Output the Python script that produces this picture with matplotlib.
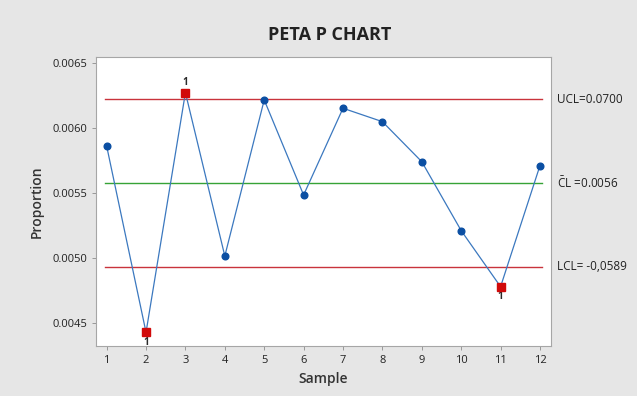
import matplotlib.pyplot as plt

plt.rcParams['font.family'] = ['Open Sans', 'DejaVu Sans']
plt.rcParams['mathtext.fontset'] = 'custom'
plt.rcParams['mathtext.rm'] = 'Open Sans'

# data
sample = [1, 2, 3, 4, 5, 6, 7, 8, 9, 10, 11, 12]
proportion = [0.005859, 0.004426, 0.006269, 0.005013, 0.006213, 0.005482,
              0.006149, 0.006046, 0.005738, 0.005208, 0.004777, 0.005708]
ucl = 0.006218
cl = 0.005572
lcl = 0.004931
ucl_text = 'UCL=0.0700'
cl_text = r'$\bar{\mathrm{C}}$L =0.0056'
lcl_text = 'LCL= -0,0589'
# points that failed test 1
flagged = [2, 3, 11]
flag_above = [False, True, False]
yticks = [0.0045, 0.0050, 0.0055, 0.0060, 0.0065]

fig = plt.figure(figsize=(6.37, 3.96), dpi=100, facecolor='#e6e6e6')
ax = fig.add_axes([0.1507, 0.1263, 0.7143, 0.7307])
ax.set_facecolor('white')

ax.axhline(ucl, color='#c9333c', lw=1.0, xmin=0.02, xmax=0.98)
ax.axhline(cl, color='#36a336', lw=1.0, xmin=0.02, xmax=0.98)
ax.axhline(lcl, color='#c9333c', lw=1.0, xmin=0.02, xmax=0.98)

ax.plot(sample, proportion, color='#3b78bf', lw=0.9, marker='o',
        markersize=4.8, markerfacecolor='#0b4fa3', markeredgecolor='#0b4fa3', zorder=3)

for s, up in zip(flagged, flag_above):
    v = proportion[s - 1]
    ax.plot(s, v, marker='s', markersize=6, color='#d10a0a', zorder=4)
    ax.annotate('1', (s, v), xytext=(0, 7 if up else -7), textcoords='offset points',
                ha='center', va='center', fontsize=7, fontweight='bold', color='#2a2a2a')

ax.set_xlim(0.73, 12.28)
ax.set_ylim(0.004321, 0.006546)
ax.set_xticks(sample)
ax.set_yticks(yticks)
ax.set_yticklabels([f'{t:.4f}' for t in yticks])
ax.tick_params(labelsize=8, labelcolor='#222222', length=3, width=0.6, color='#8c8c8c')
for sp in ax.spines.values():
    sp.set_color('#a6a6a6')
    sp.set_linewidth(0.8)

ax.set_xlabel('Sample', fontsize=10, fontweight='semibold', color='#333333', labelpad=4)
ax.set_ylabel('Proportion', fontsize=10, fontweight='semibold', color='#333333', labelpad=6)

for val, txt in [(ucl, ucl_text), (cl, cl_text), (lcl, lcl_text)]:
    ax.annotate(txt, xy=(1, val), xycoords=('axes fraction', 'data'), xytext=(4, 0),
                textcoords='offset points', ha='left', va='center', fontsize=8.5, color='#222222')

fig.suptitle('PETA P CHART', x=0.518, y=0.935, fontsize=13, fontweight='bold', color='#222222')

fig.savefig('out.png', dpi=100, facecolor=fig.get_facecolor())
